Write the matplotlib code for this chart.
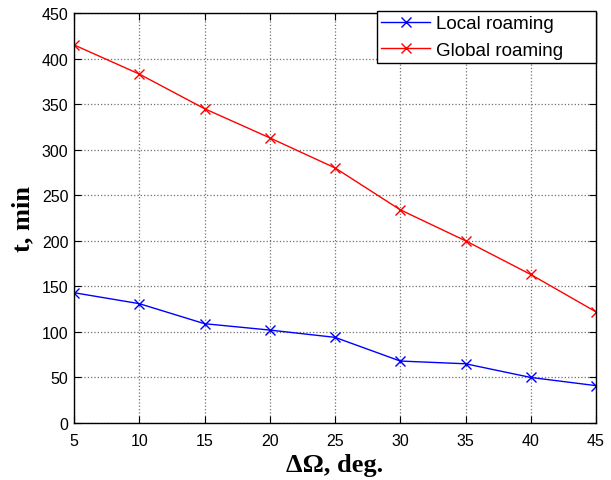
import matplotlib
matplotlib.use("Agg")
import matplotlib.pyplot as plt

# data
delta_omega = [5, 10, 15, 20, 25, 30, 35, 40, 45]
local_roaming = [143, 131, 109, 102, 94, 68, 65, 50, 41]
global_roaming = [415, 383, 345, 313, 280, 234, 200, 163, 122]

x_ticks = [5, 10, 15, 20, 25, 30, 35, 40, 45]
y_ticks = [0, 50, 100, 150, 200, 250, 300, 350, 400, 450]

plt.rcParams['font.family'] = ['Liberation Sans', 'DejaVu Sans']

W, H = 611, 481
fig = plt.figure(figsize=(W / 100, H / 100), dpi=100)
ax = fig.add_axes([74 / W, (H - 424) / H, 522 / W, 410 / H])

ax.plot(delta_omega, local_roaming, color='blue', marker='x', markersize=7,
        linewidth=1, markeredgewidth=1, label='Local roaming')
ax.plot(delta_omega, global_roaming, color='red', marker='x', markersize=7,
        linewidth=1, markeredgewidth=1, label='Global roaming')

ax.set_xlim(5, 45)
ax.set_ylim(0, 450)
ax.set_xticks(x_ticks)
ax.set_yticks(y_ticks)
ax.tick_params(direction='in', length=5, labelsize=11.5, top=True, right=True,
               labeltop=False, labelright=False)
ax.tick_params(axis='x', pad=7)
ax.tick_params(axis='y', pad=4)
ax.grid(True, color='#707070', linestyle=':', linewidth=0.9)
for sp in ax.spines.values():
    sp.set_linewidth(1)

serif = ['Liberation Serif', 'DejaVu Serif']
ax.set_xlabel('ΔΩ, deg.', fontsize=19, fontweight='bold', family=serif,
              labelpad=4)
ax.set_ylabel('t, min', fontsize=19, fontweight='bold', family=serif,
              labelpad=5)

# MATLAB-style legend box, wider than its contents
leg = ax.legend(loc='upper left', bbox_to_anchor=(303 / 522, 1.005, 219 / 522, 0.0),
                mode='expand', fontsize=13.5, fancybox=False, framealpha=1,
                edgecolor='black', borderaxespad=0, handlelength=2.6,
                borderpad=0.22, labelspacing=0.5, handletextpad=0.3)
leg.get_frame().set_linewidth(1)

fig.savefig('out.png', dpi=100)
